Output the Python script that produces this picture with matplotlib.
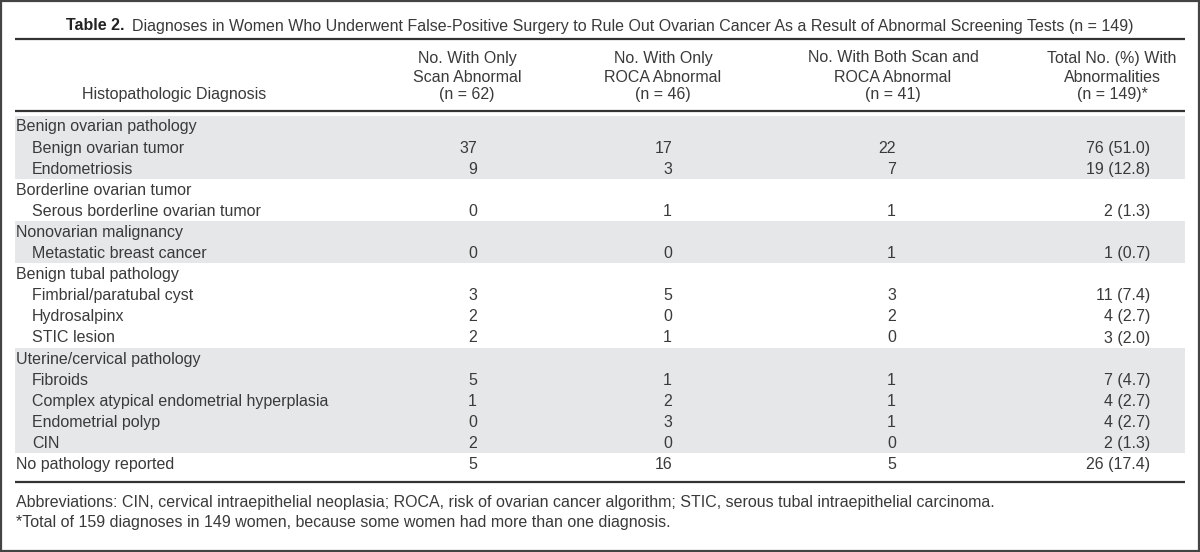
import matplotlib
matplotlib.use("Agg")
import matplotlib.pyplot as plt
from matplotlib.patches import Rectangle

plt.rcParams["font.family"] = ["Liberation Sans", "DejaVu Sans"]

title_bold = "Table 2."
title_rest = ("Diagnoses in Women Who Underwent False-Positive Surgery to Rule Out "
              "Ovarian Cancer As a Result of Abnormal Screening Tests (n = 149)")

first_header = "Histopathologic Diagnosis"
col_headers = [
    ["No. With Only", "Scan Abnormal", "(n = 62)"],
    ["No. With Only", "ROCA Abnormal", "(n = 46)"],
    ["No. With Both Scan and", "ROCA Abnormal", "(n = 41)"],
    ["Total No. (%) With", "Abnormalities", "(n = 149)*"],
]

# (group label, [(item, scan, roca, both, total)], shaded)
groups = [
    ("Benign ovarian pathology", [
        ("Benign ovarian tumor", "37", "17", "22", "76 (51.0)"),
        ("Endometriosis", "9", "3", "7", "19 (12.8)"),
    ], True),
    ("Borderline ovarian tumor", [
        ("Serous borderline ovarian tumor", "0", "1", "1", "2 (1.3)"),
    ], False),
    ("Nonovarian malignancy", [
        ("Metastatic breast cancer", "0", "0", "1", "1 (0.7)"),
    ], True),
    ("Benign tubal pathology", [
        ("Fimbrial/paratubal cyst", "3", "5", "3", "11 (7.4)"),
        ("Hydrosalpinx", "2", "0", "2", "4 (2.7)"),
        ("STIC lesion", "2", "1", "0", "3 (2.0)"),
    ], False),
    ("Uterine/cervical pathology", [
        ("Fibroids", "5", "1", "1", "7 (4.7)"),
        ("Complex atypical endometrial hyperplasia", "1", "2", "1", "4 (2.7)"),
        ("Endometrial polyp", "0", "3", "1", "4 (2.7)"),
        ("CIN", "2", "0", "0", "2 (1.3)"),
    ], True),
]
last_row = ("No pathology reported", "5", "16", "5", "26 (17.4)")

footnotes = [
    "Abbreviations: CIN, cervical intraepithelial neoplasia; ROCA, risk of ovarian "
    "cancer algorithm; STIC, serous tubal intraepithelial carcinoma.",
    "*Total of 159 diagnoses in 149 women, because some women had more than one diagnosis.",
]

W, H = 1200, 552
TXT = "#3a3a3a"
LINE = "#333333"
SHADE = "#e6e7e8"
FS = 11.5

fig = plt.figure(figsize=(W / 100, H / 100), dpi=100)
ax = fig.add_axes([0, 0, 1, 1])
ax.set_xlim(0, W)
ax.set_ylim(H, 0)
ax.axis("off")

# outer frame
ax.add_patch(Rectangle((0.8, 0.8), W - 1.6, H - 1.6, fill=False, ec="#444444", lw=1.6))

x0, x1 = 15, 1185
header_centers = [467, 663, 893, 1112]
value_right = [477, 672, 896, 1150]

# title: bold part + regular part, centered together
fig.canvas.draw()
r = fig.canvas.get_renderer()
tb = ax.text(0, 26, title_bold, fontsize=FS, fontweight="bold", color="#222222",
             va="center", ha="left")
tr = ax.text(0, 26, title_rest, fontsize=FS, color=TXT, va="center", ha="left")
wb = tb.get_window_extent(r).width
wr = tr.get_window_extent(r).width
gap = 8
start = W / 2 - (wb + gap + wr) / 2
tb.set_x(start)
tr.set_x(start + wb + gap)

ax.plot([x0, x1], [39, 39], color=LINE, lw=1.6, solid_capstyle="butt")

# column header
header_y = [58, 77, 95]
ax.text(174, header_y[2], first_header, fontsize=FS, color=TXT, ha="center", va="center")
for cx, lines in zip(header_centers, col_headers):
    for yy, s in zip(header_y, lines):
        ax.text(cx, yy, s, fontsize=FS, color=TXT, ha="center", va="center")
ax.plot([x0, x1], [111, 111], color=LINE, lw=1.6, solid_capstyle="butt")

# body rows
row_h = 21.1
top = 115.5
i = 0


def draw_row(idx, label, values, indent):
    yc = top + row_h * idx + 11.5
    ax.text(16 + indent, yc, label, fontsize=FS, color=TXT, ha="left", va="center")
    for xr, v in zip(value_right, values):
        ax.text(xr, yc, v, fontsize=FS, color=TXT, ha="right", va="center")


for label, items, shaded in groups:
    n = 1 + len(items)
    if shaded:
        ax.add_patch(Rectangle((x0, top + row_h * i), x1 - x0, row_h * n,
                               color=SHADE, lw=0, zorder=0))
    draw_row(i, label, [], 0)
    i += 1
    for item in items:
        draw_row(i, item[0], item[1:], 16)
        i += 1
draw_row(i, last_row[0], last_row[1:], 0)

ax.plot([x0, x1], [482, 482], color=LINE, lw=1.6, solid_capstyle="butt")

for yy, s in zip([503, 523], footnotes):
    ax.text(16, yy, s, fontsize=FS, color=TXT, ha="left", va="center")

fig.savefig("out.png", dpi=100)
